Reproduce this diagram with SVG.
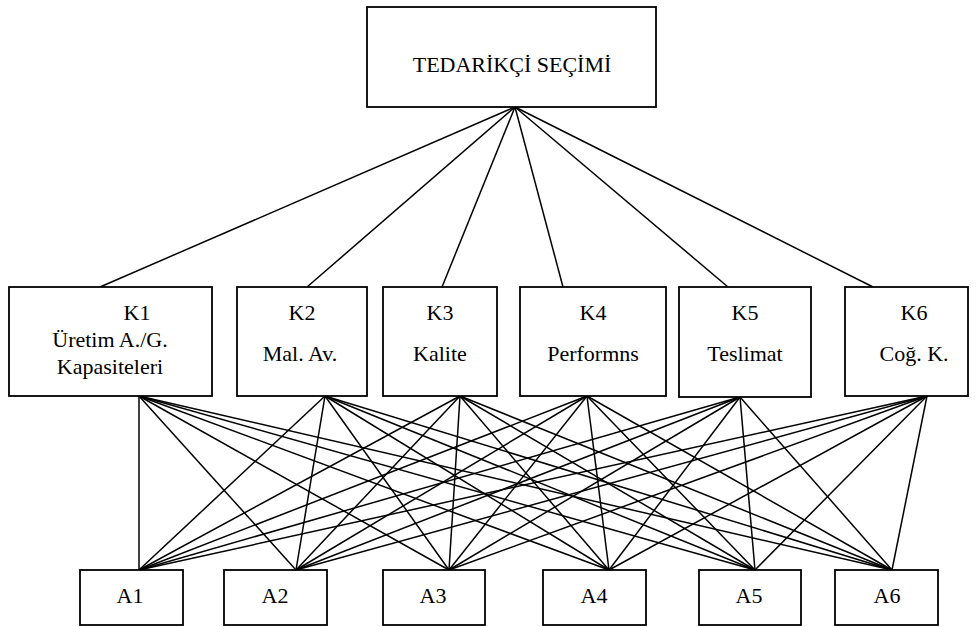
<svg xmlns="http://www.w3.org/2000/svg" width="977" height="627" viewBox="0 0 977 627" font-family="Liberation Serif, Times New Roman, serif" font-size="22">
<style>
rect{fill:#fff;stroke:#000;stroke-width:1.8}
text{font-family:'Liberation Serif', 'Times New Roman', serif;font-size:22px;fill:#000;text-anchor:middle}
#connectors line{stroke:#000;stroke-width:1.5}
</style>
<rect x="0" y="0" width="977" height="627" style="stroke:none"/>
<g id="connectors">
<line x1="515" y1="107" x2="100" y2="287"/>
<line x1="515" y1="107" x2="307" y2="287"/>
<line x1="515" y1="107" x2="442" y2="287"/>
<line x1="515" y1="107" x2="563" y2="287"/>
<line x1="515" y1="107" x2="728" y2="287"/>
<line x1="515" y1="107" x2="873" y2="287"/>
<g id="k1-lines">
<line x1="139" y1="396" x2="139" y2="570"/><line x1="139" y1="396" x2="296" y2="570"/><line x1="139" y1="396" x2="449" y2="570"/><line x1="139" y1="396" x2="609" y2="570"/><line x1="139" y1="396" x2="755" y2="570"/><line x1="139" y1="396" x2="892" y2="570"/>
</g>
<g id="k2-lines">
<line x1="325" y1="396" x2="139" y2="570"/><line x1="325" y1="396" x2="296" y2="570"/><line x1="325" y1="396" x2="449" y2="570"/><line x1="325" y1="396" x2="609" y2="570"/><line x1="325" y1="396" x2="755" y2="570"/><line x1="325" y1="396" x2="892" y2="570"/>
</g>
<g id="k3-lines">
<line x1="460" y1="396" x2="139" y2="570"/><line x1="460" y1="396" x2="296" y2="570"/><line x1="460" y1="396" x2="449" y2="570"/><line x1="460" y1="396" x2="609" y2="570"/><line x1="460" y1="396" x2="755" y2="570"/><line x1="460" y1="396" x2="892" y2="570"/>
</g>
<g id="k4-lines">
<line x1="587" y1="396" x2="139" y2="570"/><line x1="587" y1="396" x2="296" y2="570"/><line x1="587" y1="396" x2="449" y2="570"/><line x1="587" y1="396" x2="609" y2="570"/><line x1="587" y1="396" x2="755" y2="570"/><line x1="587" y1="396" x2="892" y2="570"/>
</g>
<g id="k5-lines">
<line x1="740" y1="397" x2="139" y2="570"/><line x1="740" y1="397" x2="296" y2="570"/><line x1="740" y1="397" x2="449" y2="570"/><line x1="740" y1="397" x2="609" y2="570"/><line x1="740" y1="397" x2="755" y2="570"/><line x1="740" y1="397" x2="892" y2="570"/>
</g>
<g id="k6-lines">
<line x1="927" y1="396" x2="139" y2="570"/><line x1="927" y1="396" x2="296" y2="570"/><line x1="927" y1="396" x2="449" y2="570"/><line x1="927" y1="396" x2="609" y2="570"/><line x1="927" y1="396" x2="755" y2="570"/><line x1="927" y1="396" x2="892" y2="570"/>
</g>
</g>
<g id="goal"><rect x="367" y="7" width="289" height="100"/><text x="512" y="72">TEDARİKÇİ SEÇİMİ</text></g>
<g id="K1"><rect x="9" y="287" width="203" height="109"/><text x="137" y="320">K1</text><text x="110" y="347">Üretim A./G.</text><text x="110" y="374">Kapasiteleri</text></g>
<g id="K2"><rect x="237" y="287" width="130" height="109"/><text x="302" y="320">K2</text><text x="300" y="361">Mal. Av.</text></g>
<g id="K3"><rect x="383" y="287" width="114" height="109"/><text x="440" y="320">K3</text><text x="440" y="361">Kalite</text></g>
<g id="K4"><rect x="520" y="287" width="146" height="109"/><text x="593" y="320">K4</text><text x="593" y="361">Performns</text></g>
<g id="K5"><rect x="679" y="287" width="132" height="110"/><text x="745" y="320">K5</text><text x="745" y="361">Teslimat</text></g>
<g id="K6"><rect x="845" y="287" width="123" height="109"/><text x="914" y="320">K6</text><text x="914" y="361">Coğ. K.</text></g>
<g id="A1"><rect x="80" y="570" width="103" height="55"/><text x="130" y="603">A1</text></g>
<g id="A2"><rect x="224" y="570" width="103" height="55"/><text x="275" y="603">A2</text></g>
<g id="A3"><rect x="383" y="570" width="102" height="55"/><text x="433" y="603">A3</text></g>
<g id="A4"><rect x="543" y="570" width="103" height="55"/><text x="594" y="603">A4</text></g>
<g id="A5"><rect x="699" y="570" width="102" height="55"/><text x="749" y="603">A5</text></g>
<g id="A6"><rect x="835" y="570" width="103" height="55"/><text x="887" y="603">A6</text></g>
</svg>
